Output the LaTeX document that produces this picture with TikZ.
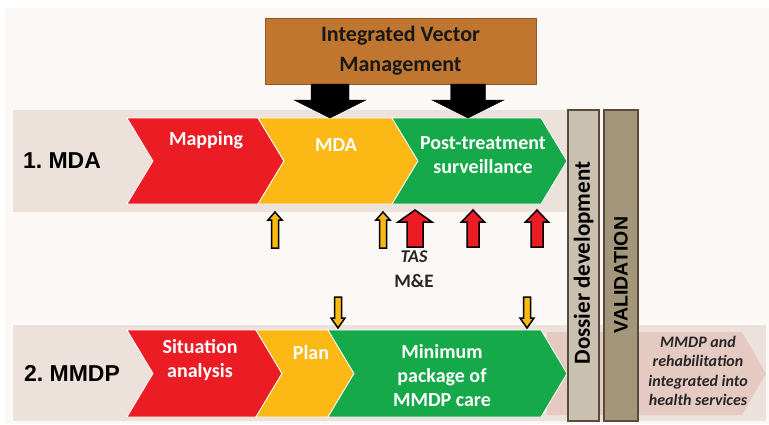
\documentclass[tikz,border=0pt]{standalone}
\usepackage{fontspec}
\setmainfont{Carlito}
\newfontfamily\arialfont{Liberation Sans}

\definecolor{pagebg}{HTML}{FBF8F5}
\definecolor{band}{HTML}{EDE1DC}
\definecolor{chevred}{HTML}{EC1C24}
\definecolor{chevyellow}{HTML}{FCB814}
\definecolor{chevgreen}{HTML}{15A94A}
\definecolor{ivmbrown}{HTML}{C1762F}
\definecolor{outpink}{HTML}{E5CAC1}
\definecolor{dossierfill}{HTML}{C9C0AF}
\definecolor{validfill}{HTML}{A3967A}
\definecolor{barline}{HTML}{584B3C}

% chevron: left, right, top, bottom, colour
\newcommand*{\chev}[5]{%
  \filldraw[#5,draw=white,line width=0.8pt] (#1,#3) -- (#2,#3) -- ({#2+26},{(#3+#4)/2})
    -- (#2,#4) -- (#1,#4) -- ({#1+26},{(#3+#4)/2}) -- cycle;}

% block arrow: style, x, tail y, head base y, tip y, shaft half width, head half width
\newcommand*{\blockarrow}[7]{%
  \filldraw[#1] ({#2-#6},#3) -- ({#2-#6},#4) -- ({#2-#7},#4) -- (#2,#5)
    -- ({#2+#7},#4) -- ({#2+#6},#4) -- ({#2+#6},#3) -- cycle;}

\begin{document}
\begin{tikzpicture}[x=1pt,y=-1pt,
  steptext/.style={inner sep=0pt,text=white,align=center,font=\bfseries\fontsize{20}{24}\selectfont},
  rowlabel/.style={inner sep=0pt,font=\arialfont\bfseries\fontsize{23}{27}\selectfont},
  smallarrow/.style={draw=black,line width=1.5pt,line join=miter}]

	\useasboundingbox (0,0) rectangle (769,424);
	\fill[white] (0,0) rectangle (769,424);
	\fill[pagebg] (5,8) rectangle (769,424);

	% bands
	\fill[band] (13,110) rectangle (568,212);
	\fill[band] (13,325) rectangle (766,421);
	\fill[outpink] (547,332) -- (742,332) -- (766,373.5) -- (742,415) -- (547,415) -- cycle;

	% row 1
	\chev{127}{258}{118}{204}{chevred}
	\chev{258}{392}{118}{204}{chevyellow}
	\chev{392}{541}{118}{204}{chevgreen}

	% row 2
	\chev{127}{256}{330}{417}{chevred}
	\chev{256}{328}{330}{417}{chevyellow}
	\chev{328}{541}{330}{417}{chevgreen}

	\node[rowlabel] (mdarow) at (62,161) {1.\ MDA};
	\node[rowlabel] (mmdprow) at (72,373) {2.\ MMDP};

	\node[steptext] (mapping) at (206,140) {Mapping};
	\node[steptext] (mdastep) at (336,145) {MDA};
	\node[steptext] (surveillance) at (483,155) {Post-treatment\\surveillance};
	\node[steptext] (situation) at (200,360) {Situation\\analysis};
	\node[steptext] (plan) at (311,353) {Plan};
	\node[steptext] (package) at (442,375.5) {Minimum\\package of\\MMDP care};

	% integrated vector management
	\node[draw=ivmbrown!75!black,fill=ivmbrown,minimum width=271pt,minimum height=66pt,
		align=center,font=\bfseries\fontsize{22}{30}\selectfont,text=black!90] (ivm) at (400.5,51) {Integrated Vector\\Management};
	\blockarrow{fill=black}{330}{84}{100}{118}{19}{36}
	\blockarrow{fill=black}{468}{84}{100}{118}{17.5}{36}

	% bars
	\draw[barline,fill=dossierfill,line width=1.5pt] (568,110) rectangle (599,421);
	\draw[barline,fill=validfill,line width=1.5pt] (604,110) rectangle (638,421);
	\node[rotate=90,inner sep=0pt,font=\bfseries\fontsize{23}{27}\selectfont] (dossier) at (583.5,263) {Dossier development};
	\node[rotate=90,inner sep=0pt,font=\arialfont\bfseries\fontsize{19.5}{23}\selectfont] (validation) at (621,275) {VALIDATION};

	\node[inner sep=0pt,align=center,text=black!85,font=\bfseries\itshape\fontsize{16}{19.3}\selectfont] (integrated) at (698,371)
		{MMDP and\\rehabilitation\\integrated into\\health services};

	% monitoring arrows
	\blockarrow{smallarrow,fill=chevyellow}{275}{248}{220}{212}{3.5}{7}
	\blockarrow{smallarrow,fill=chevyellow}{383}{248}{220}{212}{3.5}{7}
	\blockarrow{smallarrow,fill=chevred}{415}{247}{222}{210}{8}{17}
	\blockarrow{smallarrow,fill=chevred}{473}{247}{222}{210}{6}{11.5}
	\blockarrow{smallarrow,fill=chevred}{537}{247}{222}{210}{6}{11.5}
	\blockarrow{smallarrow,fill=chevyellow}{338}{297}{318}{328}{3.5}{7}
	\blockarrow{smallarrow,fill=chevyellow}{527}{297}{318}{328}{3.5}{7}

	\node[inner sep=0pt,font=\bfseries\itshape\fontsize{18}{21}\selectfont,text=black!85] (tas) at (414,257) {TAS};
	\node[inner sep=0pt,font=\bfseries\fontsize{19}{22}\selectfont,text=black!85] (me) at (414,281) {M\&E};

\end{tikzpicture}
\end{document}
